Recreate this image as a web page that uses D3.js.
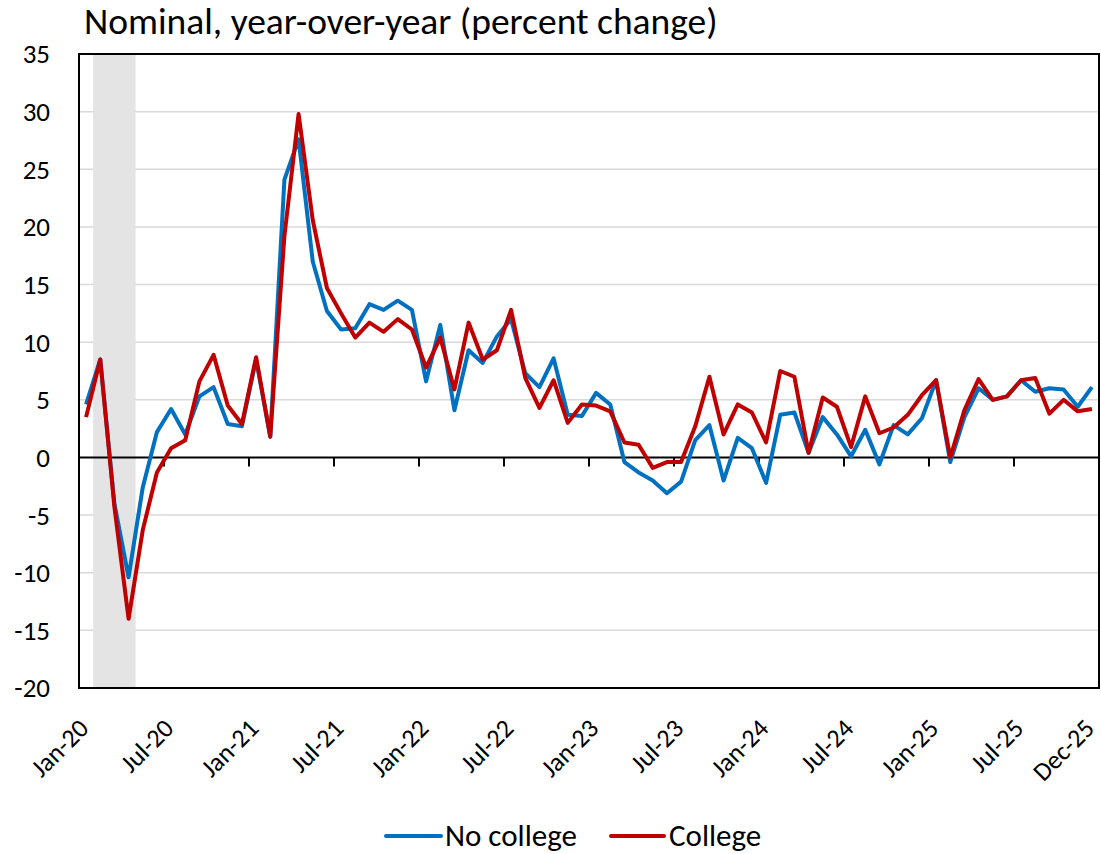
<!DOCTYPE html>
<html>
<head>
<meta charset="utf-8">
<script src="https://cdn.jsdelivr.net/npm/d3@7"></script>
<style>
  body { margin: 0; background: #fff; }
  svg text { font-family: Carlito, Calibri, Lato, sans-serif; fill: #000; }
</style>
</head>
<body>
<div id="chart"></div>
<script>
// month categories, Jan-20 .. Dec-25
const months = d3.timeMonths(new Date(2020, 0, 1), new Date(2026, 0, 1)).map(d3.timeFormat("%b-%y"));

const noCollege = [
  4.6, 8.5, -4.0, -10.4, -2.6, 2.2, 4.2, 2.0, 5.3, 6.1, 2.9, 2.7,
  8.5, 1.8, 24.1, 27.6, 17.0, 12.7, 11.1, 11.2, 13.3, 12.8, 13.6, 12.8,
  6.6, 11.5, 4.1, 9.3, 8.2, 10.5, 12.0, 7.3, 6.1, 8.6, 3.7, 3.6,
  5.6, 4.6, -0.4, -1.3, -2.0, -3.1, -2.1, 1.5, 2.8, -2.0, 1.7, 0.8,
  -2.2, 3.7, 3.9, 0.4, 3.5, 2.0, 0.1, 2.4, -0.6, 2.8, 2.0, 3.4,
  6.7, -0.4, 3.5, 6.0, 5.0, 5.3, 6.7, 5.7, 6.0, 5.9, 4.4, 6.1
];
const college = [
  3.5, 8.5, -4.3, -14.0, -6.3, -1.3, 0.8, 1.5, 6.6, 8.9, 4.5, 2.9,
  8.7, 1.8, 19.2, 29.8, 20.6, 14.7, 12.5, 10.4, 11.7, 10.9, 12.0, 11.1,
  7.8, 10.4, 5.9, 11.7, 8.5, 9.3, 12.8, 6.9, 4.3, 6.7, 3.0, 4.6,
  4.5, 4.0, 1.3, 1.1, -0.9, -0.4, -0.4, 2.7, 7.0, 2.0, 4.6, 3.9,
  1.3, 7.5, 7.0, 0.4, 5.2, 4.4, 0.9, 5.3, 2.1, 2.6, 3.7, 5.4,
  6.7, 0.0, 4.1, 6.8, 5.0, 5.3, 6.7, 6.9, 3.8, 5.0, 4.0, 4.2
];
const yTicks = [-20, -15, -10, -5, 0, 5, 10, 15, 20, 25, 30, 35];
const tickLabels = ["Jan-20", "Jul-20", "Jan-21", "Jul-21", "Jan-22", "Jul-22", "Jan-23",
  "Jul-23", "Jan-24", "Jul-24", "Jan-25", "Jul-25", "Dec-25"];
const recession = ["Feb-20", "Apr-20"];
const series = [
  {name: "No college", values: noCollege, color: "#0070C0"},
  {name: "College", values: college, color: "#C00000"}
];

const width = 1101, height = 854;
const margin = {top: 54, right: 2, bottom: 166, left: 79};
const plotW = width - margin.left - margin.right;
const plotH = height - margin.top - margin.bottom;

const svg = d3.select("#chart").append("svg")
  .attr("width", width)
  .attr("height", height);

// title
svg.append("text")
  .attr("x", 84)
  .attr("y", 34)
  .attr("font-size", "37.5px")
  .text("Nominal, year-over-year (percent change)");

const g = svg.append("g")
  .attr("transform", `translate(${margin.left},${margin.top})`);

const x = d3.scaleBand().domain(months).range([0, plotW]).padding(0);
const y = d3.scaleLinear().domain([-20, 35]).range([plotH, 0]);
const cx = m => x(m) + x.bandwidth() / 2;

// gridlines
g.append("g")
  .selectAll("line")
  .data(yTicks.filter(v => v !== 0 && v !== -20 && v !== 35))
  .join("line")
  .attr("x1", 0).attr("x2", plotW)
  .attr("y1", d => y(d)).attr("y2", d => y(d))
  .attr("stroke", "#d9d9d9")
  .attr("stroke-width", 1.5);

// recession band
g.append("rect")
  .attr("x", x(recession[0]))
  .attr("y", 0)
  .attr("width", x(recession[1]) + x.bandwidth() - x(recession[0]))
  .attr("height", plotH)
  .attr("fill", "#e4e4e4");

// y axis labels
g.append("g")
  .selectAll("text")
  .data(yTicks)
  .join("text")
  .attr("x", -29)
  .attr("y", d => y(d))
  .attr("dy", "0.35em")
  .attr("text-anchor", "end")
  .attr("font-size", "27px")
  .text(d => d);

// zero line with tick marks every 6 months
const tickIdx = d3.range(0, months.length + 1, 6);
g.append("line")
  .attr("x1", 0).attr("x2", plotW)
  .attr("y1", y(0)).attr("y2", y(0))
  .attr("stroke", "#000")
  .attr("stroke-width", 2);
g.append("g")
  .selectAll("line")
  .data(tickIdx)
  .join("line")
  .attr("x1", i => i * x.step()).attr("x2", i => i * x.step())
  .attr("y1", y(0)).attr("y2", y(0) + 9)
  .attr("stroke", "#000")
  .attr("stroke-width", 2);

// x labels
g.append("g")
  .selectAll("text")
  .data(tickLabels)
  .join("text")
  .attr("text-anchor", "end")
  .attr("font-size", "26px")
  .attr("transform", d => `translate(${cx(d) + 4},${plotH + 42}) rotate(-45)`)
  .text(d => d);

// lines
const line = d3.line()
  .x((d, i) => cx(months[i]))
  .y(d => y(d));

g.append("g")
  .selectAll("path")
  .data(series)
  .join("path")
  .attr("d", d => line(d.values))
  .attr("fill", "none")
  .attr("stroke", d => d.color)
  .attr("stroke-width", 4)
  .attr("stroke-linejoin", "round");

// border
g.append("rect")
  .attr("x", 0).attr("y", 0)
  .attr("width", plotW).attr("height", plotH)
  .attr("fill", "none")
  .attr("stroke", "#000")
  .attr("stroke-width", 2);

// legend
const legendItems = [
  {x1: 386, x2: 441, tx: 445},
  {x1: 611, x2: 664, tx: 669}
];
const legend = svg.append("g").attr("class", "legend");
series.forEach((s, i) => {
  const L = legendItems[i];
  legend.append("line")
    .attr("x1", L.x1).attr("x2", L.x2)
    .attr("y1", 836).attr("y2", 836)
    .attr("stroke", s.color)
    .attr("stroke-width", 4)
    .attr("stroke-linecap", "round");
  legend.append("text")
    .attr("x", L.tx)
    .attr("y", 846)
    .attr("font-size", "31px")
    .text(s.name);
});
</script>
</body>
</html>
